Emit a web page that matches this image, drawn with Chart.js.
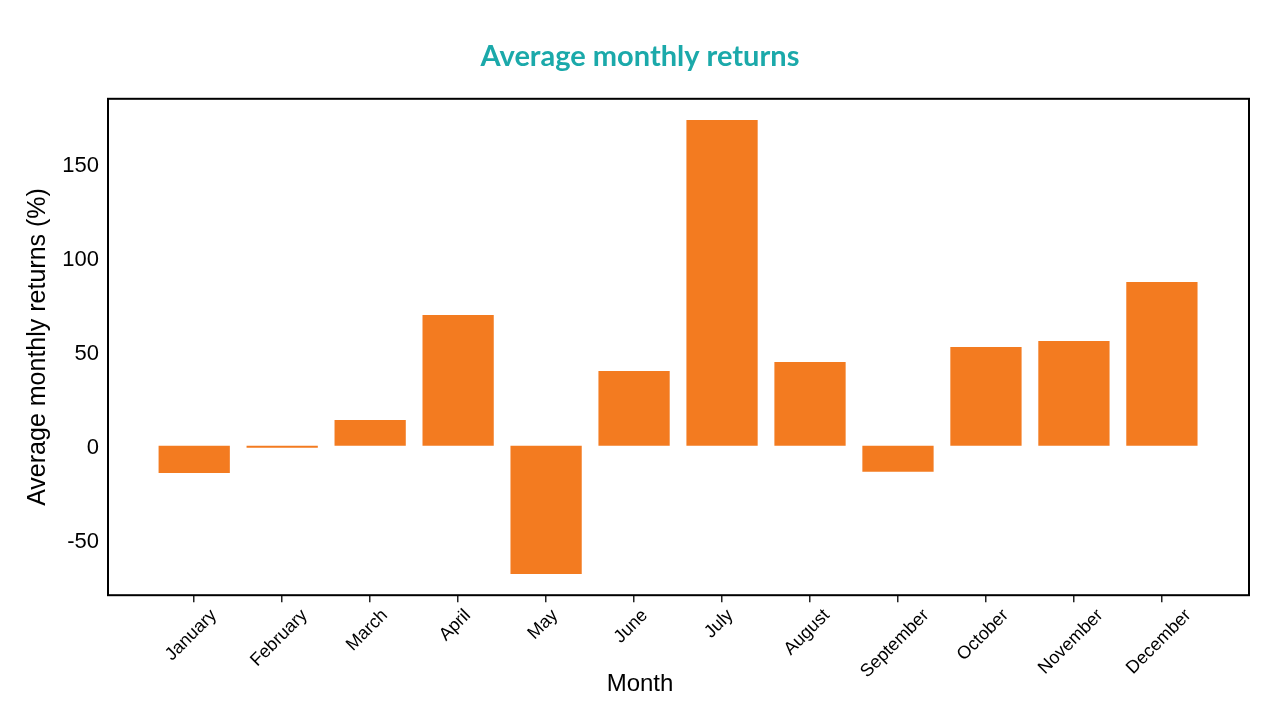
<!DOCTYPE html>
<html lang="en">
<head>
    <meta charset="UTF-8">
    <title>Average monthly returns</title>
    <script src="https://cdn.jsdelivr.net/npm/chart.js"></script>
    <style>
        html, body {
            margin: 0;
            padding: 0;
            background: #ffffff;
        }
        #wrap {
            width: 1280px;
            height: 719px;
        }
    </style>
</head>
<body>
    <div id="wrap"><canvas id="returnsChart"></canvas></div>
    <script>
        // data
        const months = ['January', 'February', 'March', 'April', 'May', 'June',
            'July', 'August', 'September', 'October', 'November', 'December'];
        const returns = [-14.4, -1.1, 13.7, 69.5, -68.1, 39.7, 173.2, 44.5, -13.8, 52.5, 55.7, 87.1];
        const yTicks = [-50, 0, 50, 100, 150];

        const barColor = '#f37b20';
        const titleColor = '#1ba9aa';
        const sans = '"Liberation Sans", Arial, sans-serif';

        // box around the plot area
        const frame = {
            id: 'frame',
            afterDraw(chart) {
                const a = chart.chartArea;
                const ctx = chart.ctx;
                ctx.save();
                ctx.strokeStyle = '#000';
                ctx.lineWidth = 2;
                ctx.strokeRect(a.left, a.top, a.right - a.left, a.bottom - a.top);
                ctx.restore();
            }
        };

        // rotated month labels, centred under their tick like the original
        const monthLabels = {
            id: 'monthLabels',
            afterDraw(chart) {
                const x = chart.scales.x;
                const ctx = chart.ctx;
                const size = 18;
                ctx.save();
                ctx.font = size + 'px ' + sans;
                ctx.fillStyle = '#000';
                ctx.textAlign = 'center';
                ctx.textBaseline = 'middle';
                months.forEach((m, i) => {
                    const w = ctx.measureText(m).width;
                    const cx = x.getPixelForValue(i) - 3;
                    const cy = x.top + 11 + (w + size) * Math.SQRT1_2 / 2;
                    ctx.save();
                    ctx.translate(cx, cy);
                    ctx.rotate(-Math.PI / 4);
                    ctx.fillText(m, 0, 0);
                    ctx.restore();
                });
                ctx.restore();
            }
        };

        new Chart(document.getElementById('returnsChart'), {
            type: 'bar',
            data: {
                datasets: [{
                    label: 'Average monthly returns (%)',
                    data: months.map((m, i) => ({ x: i, y: returns[i] })),
                    backgroundColor: barColor,
                    borderWidth: 0,
                    barPercentage: 0.81,
                    categoryPercentage: 1.0
                }]
            },
            options: {
                responsive: true,
                maintainAspectRatio: false,
                animation: false,
                layout: { padding: 0 },
                plugins: {
                    legend: { display: false },
                    tooltip: { enabled: false },
                    title: {
                        display: true,
                        text: 'Average monthly returns',
                        color: titleColor,
                        font: { family: 'Lato', size: 29, weight: 'bold' },
                        padding: { top: 39, bottom: 25 }
                    },
                    subtitle: {
                        display: true,
                        position: 'bottom',
                        text: 'Month',
                        color: '#000',
                        font: { family: sans, size: 24 },
                        padding: { top: 0, bottom: 20 }
                    }
                },
                scales: {
                    x: {
                        type: 'linear',
                        offset: false,
                        min: -0.98,
                        max: 11.99,
                        afterBuildTicks: s => { s.ticks = months.map((m, i) => ({ value: i })); },
                        afterFit: s => { s.height = 75; },
                        ticks: { display: false },
                        grid: {
                            offset: false,
                            drawOnChartArea: false,
                            drawTicks: true,
                            tickLength: 7,
                            color: '#222',
                            lineWidth: 1.5
                        },
                        border: { display: false }
                    },
                    y: {
                        min: -79.4,
                        max: 184.4,
                        afterBuildTicks: s => { s.ticks = yTicks.map(v => ({ value: v })); },
                        afterFit: s => { s.width = 108; },
                        ticks: {
                            color: '#000',
                            padding: 9,
                            labelOffset: 2,
                            font: { family: sans, size: 22 }
                        },
                        grid: { display: false, drawTicks: false },
                        border: { display: false },
                        title: {
                            display: true,
                            text: 'Average monthly returns (%)',
                            color: '#000',
                            font: { family: sans, size: 25 },
                            padding: { top: 23, bottom: 0 }
                        }
                    },
                    // empty right-hand box so the plot ends where the original does
                    yRight: {
                        type: 'linear',
                        position: 'right',
                        display: true,
                        ticks: { display: false },
                        grid: { display: false, drawTicks: false },
                        border: { display: false },
                        afterFit: s => { s.width = 31; }
                    }
                }
            },
            plugins: [frame, monthLabels]
        });
    </script>
</body>
</html>
